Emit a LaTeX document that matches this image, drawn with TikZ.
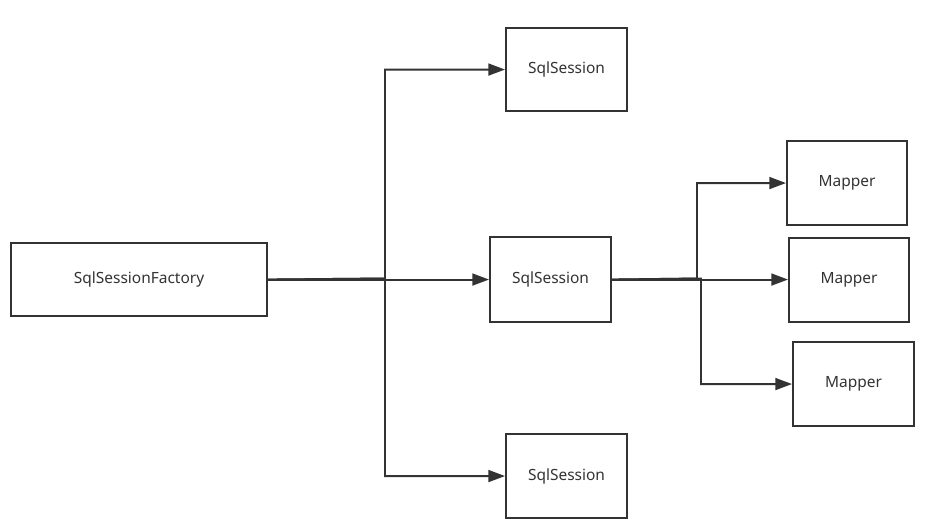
\documentclass[tikz,border=0pt]{standalone}
\usepackage{fontspec}
\setmainfont{Noto Sans}
\usetikzlibrary{arrows.meta}
\definecolor{ln}{HTML}{333333}
\definecolor{tx}{HTML}{333333}
\tikzset{
  box/.style={draw=ln, line width=1.2pt, fill=white, inner sep=0pt, anchor=north west, text=tx, font=\fontsize{8.8}{10}\selectfont},
  conn/.style={draw=ln, line width=1.1pt, -{Triangle[length=9.5pt,width=6.8pt]}}
}
\begin{document}
\begin{tikzpicture}[x=0.02cm,y=-0.02cm]
\useasboundingbox (0,0) rectangle (938,526);
\node[box, minimum width=256*0.02cm, minimum height=73*0.02cm] (f) at (10,242) {\raisebox{-1pt}{SqlSessionFactory}};
\node[box, minimum width=121*0.02cm, minimum height=83*0.02cm] (s1) at (505,27) {\raisebox{-1pt}{SqlSession}};
\node[box, minimum width=121*0.02cm, minimum height=85*0.02cm] (s2) at (489,236) {\raisebox{-1pt}{SqlSession}};
\node[box, minimum width=121*0.02cm, minimum height=84*0.02cm] (s3) at (505,433) {\raisebox{-1pt}{SqlSession}};
\node[box, minimum width=120*0.02cm, minimum height=84*0.02cm] (m1) at (786,140) {\raisebox{-1pt}{Mapper}};
\node[box, minimum width=120*0.02cm, minimum height=84*0.02cm] (m2) at (788,237) {\raisebox{-1pt}{Mapper}};
\node[box, minimum width=121*0.02cm, minimum height=84*0.02cm] (m3) at (792,341) {\raisebox{-1pt}{Mapper}};
\coordinate (j1) at (385,278.5);
\coordinate (j2) at (697,278.5);
\coordinate (j3) at (701,278.5);
\draw[conn] (f.east) -- (j1) |- (s1.west);
\draw[conn] (f.east) -- (s2.west);
\draw[conn] (f.east) -- (j1) |- (s3.west);
\draw[conn] (s2.east) -- (j2) |- (m1.west);
\draw[conn] (s2.east) -- (m2.west |- s2.east);
\draw[conn] (s2.east) -- (j3) |- (m3.west);
\end{tikzpicture}
\end{document}
